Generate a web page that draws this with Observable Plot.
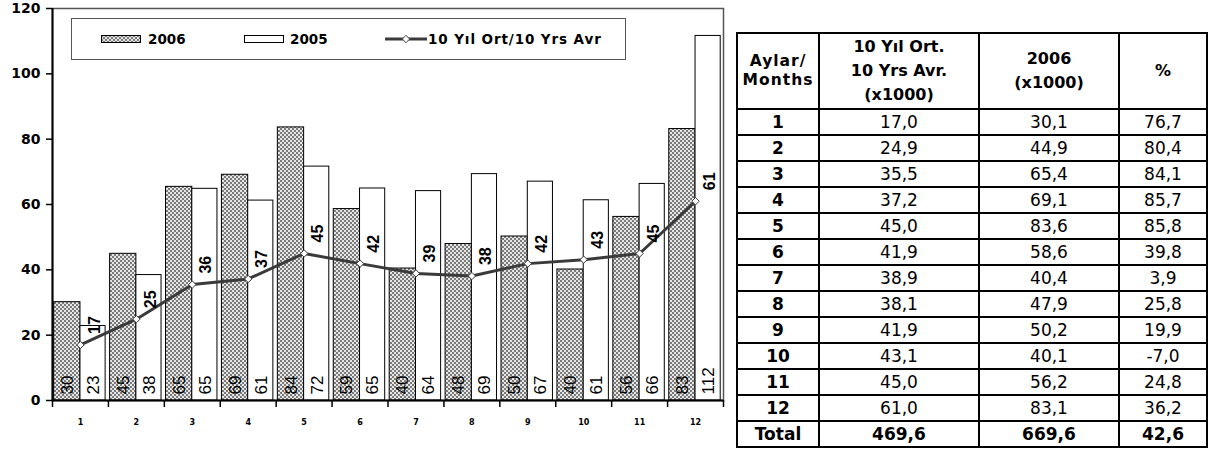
<!DOCTYPE html>
<html><head><meta charset="utf-8">
<script src="https://cdn.jsdelivr.net/npm/d3@7"></script>
<script src="https://cdn.jsdelivr.net/npm/@observablehq/plot@0.6"></script>
<style>
body{margin:0;background:#fff;font-family:"DejaVu Sans",sans-serif;}
#wrap{position:relative;width:1214px;height:450px;overflow:hidden;}
#chart{position:absolute;left:0;top:0;}
#legend{position:absolute;left:71px;top:18px;width:555px;height:42px;box-sizing:border-box;border:1px solid #555;background:#fff;}
#legend .it{position:absolute;top:0;height:40px;display:flex;align-items:center;font-weight:bold;font-size:13.5px;color:#000;white-space:nowrap;}
#legend svg{display:block;}
#tbl{position:absolute;left:736px;top:32px;width:470px;height:414px;border-collapse:collapse;border:2.5px solid #000;table-layout:fixed;}
#tbl th,#tbl td{border:2px solid #000;padding:0;text-align:center;color:#000;}
#tbl th{font-weight:bold;font-size:16px;line-height:24px;}
#tbl th.m{line-height:19px;letter-spacing:1px;font-size:15.5px;}
#tbl thead tr{height:76px;}
#tbl tbody tr{height:26px;}
#tbl td{font-size:17px;line-height:22px;}
#tbl td.b{font-weight:bold;}
#tbl tr.tot td{font-weight:bold;}
</style></head>
<body>
<div id="wrap">
  <div id="chart"></div>
  <div id="legend">
    <div class="it" style="left:29px"><svg width="40" height="8"><defs><pattern id="chkL1" width="4" height="4" patternUnits="userSpaceOnUse"><rect width="4" height="4" fill="#e6e6e6"/><rect width="2" height="2" fill="#7a7a7a"/><rect x="2" y="2" width="2" height="2" fill="#7a7a7a"/></pattern></defs><rect x="0.5" y="0.5" width="39" height="7" fill="url(#chkL1)" stroke="#000"/></svg><span style="margin-left:7px">2006</span></div>
    <div class="it" style="left:172px"><svg width="40" height="8"><rect x="0.5" y="0.5" width="39" height="7" fill="#fff" stroke="#000"/></svg><span style="margin-left:6px">2005</span></div>
    <div class="it" style="left:313px"><svg width="42" height="10"><line x1="0" y1="5" x2="42" y2="5" stroke="#3a3a3a" stroke-width="3"/><path d="M21,1.3L24.7,5L21,8.7L17.3,5Z" fill="#fff" stroke="#3a3a3a" stroke-width="1"/></svg><span style="margin-left:1px;letter-spacing:0.9px">10 Yıl Ort/10 Yrs Avr</span></div>
  </div>
  <table id="tbl">
    <colgroup><col style="width:82px"><col style="width:160px"><col style="width:140px"><col style="width:88px"></colgroup>
    <thead><tr><th class="m">Aylar/<br>Months</th><th>10 Yıl Ort.<br>10 Yrs Avr.<br>(x1000)</th><th>2006<br>(x1000)</th><th>%</th></tr></thead>
    <tbody></tbody>
  </table>
</div>
<script>
// ---- data ----
const months = [1,2,3,4,5,6,7,8,9,10,11,12];
const v2006 = [30.1,44.9,65.4,69.1,83.6,58.6,40.4,47.9,50.2,40.1,56.2,83.1];
const v2005 = [22.8,38.4,64.8,61.2,71.6,64.9,64.1,69.3,67.0,61.3,66.3,111.6];
const avg10 = [17.0,24.9,35.5,37.2,45.0,41.9,38.9,38.1,41.9,43.1,45.0,61.0];
const pct = [76.7,80.4,84.1,85.7,85.8,39.8,3.9,25.8,19.9,-7.0,24.8,36.2];
const totalLabel = "Total";
const totals = [469.6,669.6,42.6];
const yTicks = [0,20,40,60,80,100,120];

const rows = months.map((m,i)=>({m, a:v2006[i], b:v2005[i], avg:avg10[i]}));
const bounds = months.map(m=>m-0.5).concat([months[months.length-1]+0.5]);
const xDomain = [bounds[0], bounds[bounds.length-1]];

const chart = Plot.plot({
  width:730, height:450,
  marginLeft:52, marginRight:7, marginTop:8, marginBottom:50,
  style:{fontFamily:"DejaVu Sans, sans-serif", background:"transparent", overflow:"visible", color:"#000"},
  x:{type:"linear", domain:xDomain},
  y:{domain:[0,120]},
  marks:[
    Plot.frame({stroke:"#555", strokeWidth:1.5}),
    Plot.rectY(rows,{x1:d=>d.m-0.47, x2:d=>d.m, y1:0, y2:"a", fill:"url(#chk)", stroke:"#000", strokeWidth:1}),
    Plot.rectY(rows,{x1:d=>d.m, x2:d=>d.m+0.45, y1:0, y2:"b", fill:"#fff", stroke:"#000", strokeWidth:1}),
    Plot.ruleY([0],{stroke:"#000", strokeWidth:2}),
    Plot.ruleX([xDomain[0]],{stroke:"#000", strokeWidth:2}),
    Plot.line(rows,{x:"m", y:"avg", stroke:"#3a3a3a", strokeWidth:3}),
    Plot.dot(rows,{x:"m", y:"avg", symbol:"diamond2", r:3.3, fill:"#fff", stroke:"#3a3a3a", strokeWidth:1}),
    Plot.text(rows,{x:"m", y:0, text:d=>Math.round(d.a), rotate:-90, textAnchor:"start", dx:-13, dy:-6, fontSize:17, fontFamily:"Liberation Sans, Arial, sans-serif", fill:"#000"}),
    Plot.text(rows,{x:"m", y:0, text:d=>Math.round(d.b), rotate:-90, textAnchor:"start", dx:13, dy:-6, fontSize:17, fontFamily:"Liberation Sans, Arial, sans-serif", fill:"#000"}),
    Plot.text(rows,{x:"m", y:"avg", text:d=>Math.round(d.avg), rotate:-90, textAnchor:"start", dx:14, dy:-11, fontSize:16, fontWeight:"bold", fontFamily:"Liberation Sans, Arial, sans-serif", fill:"#000"}),
    Plot.axisY({ticks:yTicks, tickSize:6, tickPadding:6, fontSize:14, fontWeight:"bold", label:null, stroke:"#000", strokeWidth:1.5}),
    Plot.axisX({ticks:bounds, tickSize:7, tickFormat:()=>"", label:null, stroke:"#000", strokeWidth:1.5}),
    Plot.axisX({ticks:months, tickSize:0, tickPadding:19, fontSize:8, fontWeight:"bold", tickFormat:d=>String(d), label:null})
  ]
});
const svg = d3.select(chart);
const defs = svg.insert("defs", ":first-child");
const pat = defs.append("pattern").attr("id","chk").attr("width",4).attr("height",4).attr("patternUnits","userSpaceOnUse");
pat.append("rect").attr("width",4).attr("height",4).attr("fill","#e6e6e6");
pat.append("rect").attr("width",2).attr("height",2).attr("fill","#7a7a7a");
pat.append("rect").attr("x",2).attr("y",2).attr("width",2).attr("height",2).attr("fill","#7a7a7a");
document.getElementById("chart").appendChild(chart);

// ---- table ----
const fmt = v => v.toFixed(1).replace(".", ",");
const tb = d3.select("#tbl tbody");
months.forEach((m,i)=>{
  const tr = tb.append("tr");
  tr.append("td").attr("class","b").text(m);
  tr.append("td").text(fmt(avg10[i]));
  tr.append("td").text(fmt(v2006[i]));
  tr.append("td").text(fmt(pct[i]));
});
const trt = tb.append("tr").attr("class","tot");
trt.append("td").text(totalLabel);
totals.forEach(t=>trt.append("td").text(fmt(t)));
</script>
</body></html>
